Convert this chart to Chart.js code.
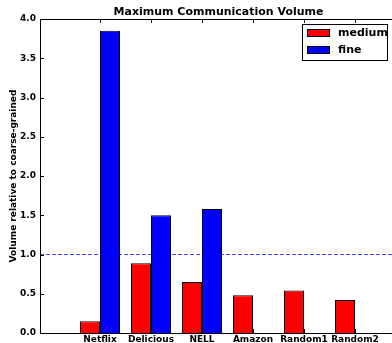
<!DOCTYPE html>
<html>
<head>
<meta charset="utf-8">
<script src="https://cdn.jsdelivr.net/npm/chart.js@4/dist/chart.umd.min.js"></script>
<style>
  html, body { margin: 0; padding: 0; background: #fff; overflow: hidden; }
  #wrap { position: relative; width: 400px; height: 343px; }
</style>
</head>
<body>
<div id="wrap"><canvas id="chart"></canvas></div>
<script>
// Communication volume of each partitioning, relative to the coarse-grained one
const categories = ['Netflix', 'Delicious', 'NELL', 'Amazon', 'Random1', 'Random2'];
const mediumVolume = [0.15, 0.89, 0.65, 0.48, 0.54, 0.42];
const fineVolume = [3.85, 1.50, 1.58, 0, 0, 0];
const seriesNames = ['medium', 'fine'];
const yTickValues = [0.0, 0.5, 1.0, 1.5, 2.0, 2.5, 3.0, 3.5, 4.0];
const referenceLevel = 1.0;

const FONT = '"DejaVu Sans", sans-serif';
const X_MIN = -60 / 51;
const X_MAX = X_MIN + 7;
const GROUP_SHARE = 40 / 51;   // two bars fill 40px of each 51px slot

// bars sit on integer x positions: red on the left half, blue on the right half
const toPoints = (values) => values.map((v, i) => ({ x: i, y: v }));

const framePlugin = {
  id: 'frame',
  afterDatasetsDraw(chart) {
    const { ctx, chartArea: a, scales } = chart;
    ctx.save();
    ctx.strokeStyle = '#000';
    ctx.lineWidth = 1;
    // axes frame
    ctx.beginPath();
    ctx.moveTo(a.left + 0.5, a.top + 0.5);
    ctx.lineTo(a.right, a.top + 0.5);
    ctx.moveTo(a.left + 0.5, a.top);
    ctx.lineTo(a.left + 0.5, a.bottom + 0.5);
    ctx.lineTo(a.right, a.bottom + 0.5);
    ctx.stroke();
    // inward tick marks
    ctx.beginPath();
    yTickValues.forEach(v => {
      const y = Math.round(scales.y.getPixelForValue(v)) + 0.5;
      ctx.moveTo(a.left, y); ctx.lineTo(a.left + 4, y);
      ctx.moveTo(a.right, y); ctx.lineTo(a.right - 4, y);
    });
    categories.forEach((c, i) => {
      const x = Math.round(scales.x.getPixelForValue(i)) + 0.5;
      ctx.moveTo(x, a.top); ctx.lineTo(x, a.top + 4);
      ctx.moveTo(x, a.bottom); ctx.lineTo(x, a.bottom - 4);
    });
    ctx.stroke();

    // title
    ctx.fillStyle = '#000';
    ctx.font = 'bold 11px ' + FONT;
    ctx.textAlign = 'center';
    ctx.textBaseline = 'middle';
    ctx.fillText('Maximum Communication Volume', (a.left + a.right) / 2, 12);

    // y axis title
    ctx.save();
    ctx.translate(14, (a.top + a.bottom) / 2);
    ctx.rotate(-Math.PI / 2);
    ctx.font = 'bold 9px ' + FONT;
    ctx.fillText('Volume relative to coarse-grained', 0, 0);
    ctx.restore();

    // legend
    const bx = 302, by = 24, bw = 85, bh = 36;
    ctx.fillStyle = '#fff';
    ctx.fillRect(bx, by, bw, bh);
    ctx.strokeRect(bx + 0.5, by + 0.5, bw, bh);
    chart.data.datasets.filter(d => d.type !== 'line').forEach((d, i) => {
      const sy = by + 5 + i * 17;
      ctx.fillStyle = d.backgroundColor;
      ctx.fillRect(bx + 5, sy, 22, 7);
      ctx.strokeStyle = '#000';
      ctx.strokeRect(bx + 5.5, sy + 0.5, 22, 7);
      ctx.fillStyle = '#000';
      ctx.font = 'bold 11px ' + FONT;
      ctx.textAlign = 'left';
      ctx.textBaseline = 'middle';
      ctx.fillText(d.label, bx + 36, sy + 4);
    });
    ctx.restore();
  }
};

new Chart(document.getElementById('chart'), {
  type: 'bar',
  data: {
    datasets: [
      {
        label: seriesNames[0],
        data: toPoints(mediumVolume),
        backgroundColor: '#ff0000',
        borderColor: '#000',
        borderWidth: 1,
        categoryPercentage: GROUP_SHARE,
        barPercentage: 1.0,
        inflateAmount: 0
      },
      {
        label: seriesNames[1],
        data: toPoints(fineVolume),
        backgroundColor: '#0000ff',
        borderColor: '#000',
        borderWidth: 1,
        categoryPercentage: GROUP_SHARE,
        barPercentage: 1.0,
        inflateAmount: 0
      },
      {
        type: 'line',
        label: 'coarse',
        data: [{ x: X_MIN, y: referenceLevel }, { x: X_MAX, y: referenceLevel }],
        borderColor: '#4d4dff',
        borderWidth: 1,
        borderDash: [4, 2],
        pointRadius: 0,
        fill: false
      }
    ]
  },
  plugins: [framePlugin],
  options: {
    responsive: true,
    maintainAspectRatio: false,
    animation: false,
    layout: { padding: { top: 19, right: 3, left: 0, bottom: 0 } },
    plugins: {
      legend: { display: false },
      title: { display: false },
      tooltip: { enabled: false }
    },
    scales: {
      x: {
        type: 'linear',
        min: X_MIN,
        max: X_MAX,
        offset: false,
        grid: { display: false, drawTicks: false },
        border: { display: false },
        afterBuildTicks(scale) {
          scale.ticks = categories.map((c, i) => ({ value: i }));
        },
        afterFit(scale) { scale.height = 10; },
        ticks: {
          padding: 1,
          autoSkip: false,
          maxRotation: 0,
          color: '#000',
          font: { family: FONT, size: 9, weight: 'bold' },
          callback: (v) => categories[v] ?? ''
        }
      },
      y: {
        min: 0,
        max: 4,
        grid: { display: false, drawTicks: false },
        border: { display: false },
        afterBuildTicks(scale) {
          scale.ticks = yTickValues.map(v => ({ value: v }));
        },
        afterFit(scale) { scale.width = 40; },
        ticks: {
          padding: 4,
          color: '#000',
          font: { family: FONT, size: 9, weight: 'bold' },
          callback: (v) => Number(v).toFixed(1)
        }
      }
    }
  }
});
</script>
</body>
</html>
